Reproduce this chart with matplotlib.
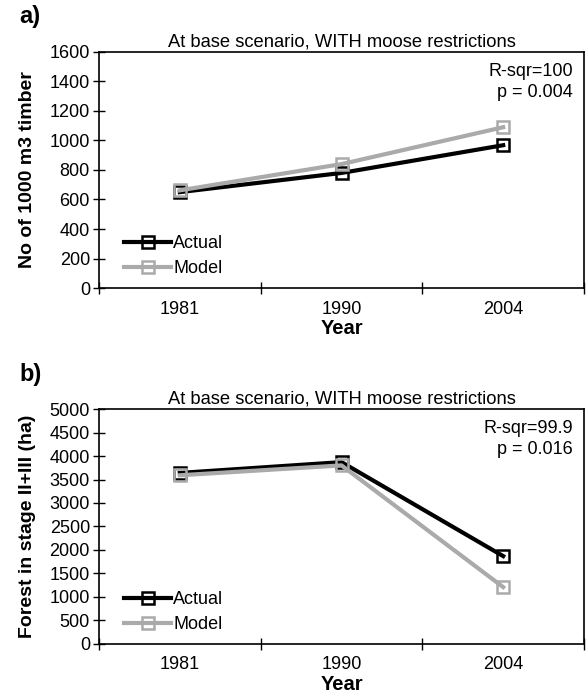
import matplotlib.pyplot as plt
import numpy as np

plt.rcParams['font.family'] = ['Liberation Sans', 'DejaVu Sans']

years = ["1981", "1990", "2004"]

timber_actual = [650, 780, 968]
timber_model = [662, 840, 1090]

forest_actual = [3640, 3870, 1870]
forest_model = [3590, 3800, 1210]

title = "At base scenario, WITH moose restrictions"
stats_a = "R-sqr=100\np = 0.004"
stats_b = "R-sqr=99.9\np = 0.016"

fig = plt.figure(figsize=(5.87, 6.95), dpi=100)
ax_a = fig.add_axes([0.1687, 0.5856, 0.8262, 0.3396])
ax_b = fig.add_axes([0.1687, 0.0734, 0.8262, 0.3381])


def draw_panel(ax, actual, model, ymax, ystep, ylabel, stats, tag):
    x = np.arange(len(years))
    ax.plot(x, actual, color="black", lw=3.0, marker="s", ms=9,
            mfc="none", mec="black", mew=1.8, label="Actual")
    ax.plot(x, model, color="#aaaaaa", lw=3.0, marker="s", ms=9,
            mfc="none", mec="#aaaaaa", mew=1.8, label="Model")
    ax.set_xlim(-0.5, len(years) - 0.5)
    ax.set_ylim(0, ymax)
    ax.set_yticks(np.arange(0, ymax + 1, ystep))
    # category boundaries get the tick marks, labels sit between them
    ax.set_xticks(np.arange(-0.5, len(years), 1.0))
    ax.set_xticklabels([])
    ax.set_xticks(x, minor=True)
    ax.set_xticklabels(years, minor=True)
    ax.tick_params(axis="x", which="major", direction="inout", length=9, width=1)
    ax.tick_params(axis="x", which="minor", length=0, pad=9, labelsize=13)
    ax.tick_params(axis="y", direction="inout", length=9, width=1, pad=2, labelsize=13)
    for s in ax.spines.values():
        s.set_linewidth(1.2)
    ax.set_xlabel("Year", fontsize=14.5, fontweight="bold", labelpad=1)
    ax.set_ylabel(ylabel, fontsize=14, fontweight="bold", labelpad=10)
    ax.set_title(title, fontsize=13.2, pad=4)
    ax.text(0.977, 0.955, stats, transform=ax.transAxes, ha="right", va="top",
            fontsize=13, linespacing=1.35)
    ax.text(-0.165, 1.1, tag, transform=ax.transAxes, ha="left", va="bottom",
            fontsize=17, fontweight="bold")
    ax.legend(loc="lower left", frameon=False, fontsize=13, handlelength=2.6,
              handletextpad=0.1, labelspacing=0.45, borderaxespad=0.2,
              bbox_to_anchor=(0.03, 0.0))


draw_panel(ax_a, timber_actual, timber_model, 1600, 200,
           "No of 1000 m3 timber", stats_a, "a)")
draw_panel(ax_b, forest_actual, forest_model, 5000, 500,
           "Forest in stage II+III (ha)", stats_b, "b)")

fig.savefig("out.png", dpi=100)
